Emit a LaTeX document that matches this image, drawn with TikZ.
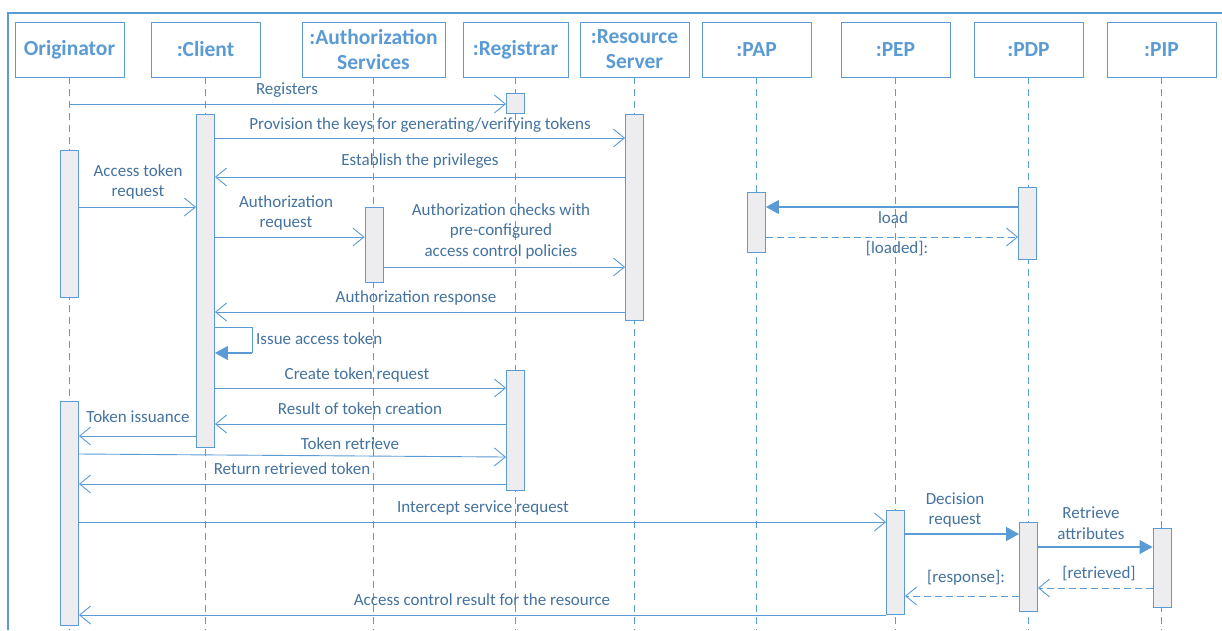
\documentclass[tikz,border=0pt]{standalone}
\usepackage{fontspec}
\setmainfont{Carlito}
\usetikzlibrary{arrows.meta}
\definecolor{ln}{HTML}{5B9BD5}
\definecolor{tx}{HTML}{44739F}
\definecolor{hd}{HTML}{5B9BD5}
\definecolor{af}{HTML}{EDEDEF}
\tikzset{
  head/.style={draw=ln, line width=0.9pt, minimum height=55pt, inner sep=0pt, text=hd, font=\fontsize{21.5}{25}\selectfont\bfseries, align=center},
  life/.style={draw=ln, line width=0.8pt, dash pattern=on 7pt off 5pt},
  act/.style={draw=ln, fill=af, line width=0.9pt, minimum width=18pt, inner sep=0pt},
  msg/.style={draw=ln, line width=0.9pt, -{Straight Barb[length=11pt,width=18pt,line width=0.9pt]}},
  fmsg/.style={draw=ln, line width=1.1pt, -{Triangle[length=13pt,width=14pt]}, fill=ln},
  rmsg/.style={draw=ln, line width=0.9pt, dash pattern=on 7pt off 4pt, -{Straight Barb[length=11pt,width=18pt,line width=0.9pt]}},
  lbl/.style={text=tx, font=\fontsize{17}{20.5}\selectfont, align=center, inner sep=0pt}
}
\begin{document}
\begin{tikzpicture}[x=1pt,y=-1pt]
\useasboundingbox (0,0) rectangle (1222,630);
\fill[white] (0,0) rectangle (1222,630);
% frame
\draw[ln, line width=1.6pt] (8,630) -- (8,13) -- (1222,13);
% heads
\node[head, minimum width=109pt] (orig) at (69.5,49.5) {Originator};
\node[head, minimum width=109pt] (cli) at (205.5,49.5) {:Client};
\node[head, minimum width=143pt] (aut) at (373.5,49.5) {:Authorization\\Services};
\node[head, minimum width=105pt] (reg) at (515.5,49.5) {:Registrar};
\node[head, minimum width=109pt] (rsv) at (634.5,49.5) {:Resource\\Server};
\node[head, minimum width=109pt] (pap) at (756.5,49.5) {:PAP};
\node[head, minimum width=109pt] (pep) at (895.5,49.5) {:PEP};
\node[head, minimum width=109pt] (pdp) at (1028.5,49.5) {:PDP};
\node[head, minimum width=109pt] (pip) at (1161.5,49.5) {:PIP};
% lifelines
\foreach \n in {orig,cli,aut,reg,rsv,pap,pep,pdp,pip}{
  \coordinate (\n-end) at (\n.south |- 0,630);
  \draw[life] (\n.south) -- (\n-end);
}
% activations
\node[act, minimum height=20pt] (rg1) at (515.5,103) {};
\node[act, minimum height=333pt] (c1) at (205.5,280.5) {};
\node[act, minimum height=206pt] (rs1) at (634.5,217) {};
\node[act, minimum height=147pt] (o1) at (69.5,223.5) {};
\node[act, minimum height=75pt] (a1) at (374,244.5) {};
\node[act, minimum height=60pt] (pap1) at (756.5,222) {};
\node[act, minimum height=72pt] (pdp1) at (1027.5,223) {};
\node[act, minimum height=120pt] (rg2) at (515.5,430) {};
\node[act, minimum height=224pt] (o2) at (69.5,513) {};
\node[act, minimum height=104pt] (pep1) at (895.5,562) {};
\node[act, minimum height=89pt] (pdp2) at (1028.5,566.5) {};
\node[act, minimum height=79pt] (pip1) at (1162,567.5) {};
% messages
\draw[msg] (orig.south |- 0,104) -- (rg1.west |- 0,104);
\node[lbl] at (287,90) {Registers};
\draw[msg] (c1.east |- 0,138) -- (rs1.west |- 0,138);
\node[lbl] at (420,125) {Provision the keys for generating/verifying tokens};
\draw[msg] (rs1.west |- 0,177) -- (c1.east |- 0,177);
\node[lbl] at (420,161) {Establish the privileges};
\draw[msg] (o1.east |- 0,207) -- (c1.west |- 0,207);
\node[lbl] at (138,182) {Access token\\request};
\draw[msg] (c1.east |- 0,237) -- (a1.west |- 0,237);
\node[lbl] at (286,213) {Authorization\\request};
\draw[msg] (a1.east |- 0,267) -- (rs1.west |- 0,267);
\node[lbl] at (501,231) {Authorization checks with\\pre-configured\\access control policies};
\draw[msg] (rs1.west |- 0,312) -- (c1.east |- 0,312);
\node[lbl] at (416,298) {Authorization response};
% self message
\coordinate (s1) at (252,327);
\coordinate (s2) at (252,353);
\draw[ln, line width=0.9pt] (c1.east |- 0,327) -- (s1) -- (s2);
\draw[fmsg] (s2) -- (c1.east |- 0,353);
\node[lbl, anchor=west] at (256,339) {Issue access token};
\draw[msg] (c1.east |- 0,388) -- (rg2.west |- 0,388);
\node[lbl] at (357,375) {Create token request};
\draw[msg] (rg2.west |- 0,424) -- (c1.east |- 0,424);
\node[lbl] at (360,409) {Result of token creation};
\draw[msg] (c1.west |- 0,436) -- (o2.east |- 0,436);
\node[lbl] at (138,417) {Token issuance};
\draw[msg] (o2.east |- 0,454) -- (rg2.west |- 0,457);
\node[lbl] at (350,444) {Token retrieve};
\draw[msg] (rg2.west |- 0,484) -- (o2.east |- 0,484);
\node[lbl] at (292,469) {Return retrieved token};
\draw[msg] (o2.east |- 0,522) -- (pep1.west |- 0,522);
\node[lbl] at (483,508) {Intercept service request};
% policy
\draw[fmsg] (pdp1.west |- 0,207) -- (pap1.east |- 0,207);
\node[lbl] at (893,218) {load};
\draw[rmsg] (pap1.east |- 0,237) -- (pdp1.west |- 0,237);
\node[lbl] at (897,249) {[loaded]:};
\draw[fmsg] (pep1.east |- 0,534) -- (pdp2.west |- 0,534);
\node[lbl] at (955,510) {Decision\\request};
\draw[fmsg] (pdp2.east |- 0,547) -- (pip1.west |- 0,547);
\node[lbl] at (1091,523) {Retrieve\\attributes};
\draw[rmsg] (pip1.west |- 0,588) -- (pdp2.east |- 0,588);
\node[lbl] at (1099,574) {[retrieved]};
\draw[rmsg] (pdp2.west |- 0,596) -- (pep1.east |- 0,596);
\node[lbl] at (966,578) {[response]:};
\draw[msg] (pep1.west |- 0,615) -- (o2.east |- 0,615);
\node[lbl] at (482,600) {Access control result for the resource};
\end{tikzpicture}
\end{document}
